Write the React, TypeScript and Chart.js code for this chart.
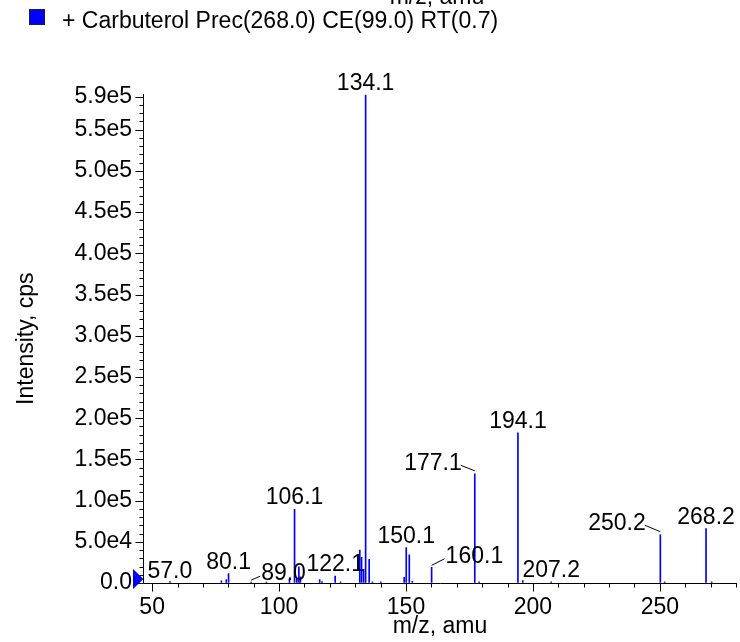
import React, { useEffect, useRef } from 'react';
import { Chart, registerables } from 'chart.js';

Chart.register(...registerables);

const FONT = '"Liberation Sans", Arial, Helvetica, sans-serif';

const legendLabel = '+ Carbuterol Prec(268.0) CE(99.0) RT(0.7)';
const xTitle = 'm/z, amu';
const yTitle = 'Intensity, cps';

// peak list: m/z and intensity (cps)
const mz = [57.0, 77.3, 79.2, 80.1, 89.0, 95.0, 104.1, 106.1, 107.0, 107.8, 108.4, 116.0, 116.9, 122.1, 124.2,
  131.8, 132.5, 133.3, 134.1, 135.5, 136.8, 140.1, 149.3, 150.1, 151.3, 152.5, 160.1, 177.1, 178.8, 194.1,
  196.0, 207.2, 250.2, 251.9, 268.2, 270.4];
const intensity = [1800, 2500, 4000, 11300, 1000, 1000, 4500, 89400, 5700, 19700, 7600, 4000, 1800, 8500, 1500,
  39900, 31000, 16500, 592000, 28600, 1500, 1500, 6900, 43000, 34200, 2000, 19000, 132500, 1500, 182300,
  3000, 1500, 58600, 1500, 65900, 1500];

// peak annotations
const labelText = ['57.0', '80.1', '89.0', '106.1', '122.1', '134.1', '150.1', '160.1', '177.1', '194.1', '207.2', '250.2', '268.2'];
const labelPeak = [57.0, 80.1, 89.0, 106.1, 122.1, 134.1, 150.1, 160.1, 177.1, 194.1, 207.2, 250.2, 268.2];
const labelSide = ['above', 'above', 'right', 'above', 'above', 'above', 'above', 'right', 'left', 'above', 'above', 'left', 'above'];
const labelDx = [0, 0, 10, 0, 0, 0, 0, 14, -13, 0, 0, -14.6, 0];
const labelDy = [-4, -5, -2, -5, -5, -5, -5, -4.6, -4, -5, -5, -5, -5];

const xMin = 46.4;
const xMax = 280.4;
const yMax = 593000;
const xTickValues = [50, 100, 150, 200, 250];
const xTickLabels = ['50', '100', '150', '200', '250'];
const yTickValues = [0, 50000, 100000, 150000, 200000, 250000, 300000, 350000, 400000, 450000, 500000, 550000, 590000];
const yTickLabels = ['0.0', '5.0e4', '1.0e5', '1.5e5', '2.0e5', '2.5e5', '3.0e5', '3.5e5', '4.0e5', '4.5e5', '5.0e5', '5.5e5', '5.9e5'];
const xMinorStep = 10;
const yMinorStep = 10000;

const overlayPlugin = {
  id: 'overlay',
  afterDatasetsDraw(chart: any) {
    const { ctx, chartArea, scales } = chart;
    const x = scales.x;
    const y = scales.y;
    ctx.save();
    ctx.strokeStyle = '#000';
    ctx.lineWidth = 1;
    const bottom = Math.round(chartArea.bottom) + 0.5;
    const left = Math.round(chartArea.left) + 0.5;
    // axis lines
    ctx.beginPath();
    ctx.moveTo(left, Math.round(chartArea.top));
    ctx.lineTo(left, bottom);
    ctx.lineTo(chartArea.right, bottom);
    ctx.stroke();
    // x ticks
    ctx.beginPath();
    for (let v = Math.ceil(xMin / xMinorStep) * xMinorStep; v <= xMax; v += xMinorStep) {
      const p = Math.round(x.getPixelForValue(v)) + 0.5;
      const len = xTickValues.includes(v) ? 8 : 4;
      ctx.moveTo(p, bottom);
      ctx.lineTo(p, bottom + len);
    }
    // y ticks
    for (let v = 0; v <= yTickValues[yTickValues.length - 1]; v += yMinorStep) {
      const p = Math.round(y.getPixelForValue(v)) + 0.5;
      const len = yTickValues.includes(v) ? 8 : 4;
      ctx.moveTo(left, p);
      ctx.lineTo(left - len, p);
    }
    ctx.stroke();
    // origin marker
    const oy = y.getPixelForValue(0) - 4;
    ctx.fillStyle = '#0000ff';
    ctx.beginPath();
    ctx.moveTo(left - 10.5, oy - 10);
    ctx.lineTo(left, oy);
    ctx.lineTo(left - 10.5, oy + 10);
    ctx.closePath();
    ctx.fill();

    // peak labels
    ctx.font = '23px ' + FONT;
    ctx.fillStyle = '#000';
    ctx.textBaseline = 'alphabetic';
    labelText.forEach((t, i) => {
      const idx = mz.indexOf(labelPeak[i]);
      const px = x.getPixelForValue(mz[idx]);
      const top = y.getPixelForValue(intensity[idx]);
      const ax = px + labelDx[i];
      const by = top + labelDy[i];
      if (labelSide[i] === 'above') {
        ctx.textAlign = 'center';
      } else if (labelSide[i] === 'right') {
        ctx.textAlign = 'left';
        ctx.beginPath();
        ctx.moveTo(px, top - 2);
        ctx.lineTo(ax - 1, by - 4);
        ctx.stroke();
      } else {
        ctx.textAlign = 'right';
        ctx.beginPath();
        ctx.moveTo(px, top - 3);
        ctx.lineTo(ax - 1, by - 4.5);
        ctx.stroke();
      }
      ctx.fillText(t, ax, by);
    });

    // legend
    ctx.fillStyle = '#0000ff';
    ctx.fillRect(29, 9, 16, 16);
    ctx.strokeStyle = '#222';
    ctx.strokeRect(29.5, 9.5, 15, 15);
    ctx.fillStyle = '#000';
    ctx.textAlign = 'left';
    ctx.fillText(legendLabel, 62, 28);

    // clipped axis title of the panel above
    ctx.textAlign = 'center';
    ctx.fillText(xTitle, 437, 3.5);
    ctx.restore();
  },
};

export default function App() {
  const ref = useRef<HTMLCanvasElement | null>(null);
  useEffect(() => {
    if (!ref.current) return;
    Chart.defaults.font.family = FONT;
    Chart.defaults.color = '#000';
    const chart = new Chart(ref.current, {
      type: 'bar',
      data: {
        datasets: [
          {
            label: legendLabel,
            data: mz.map((m, i) => ({ x: m, y: intensity[i] })),
            backgroundColor: '#0000ff',
            borderWidth: 0,
            barThickness: 1,
            grouped: false,
          } as any,
        ],
      },
      options: {
        animation: false,
        responsive: false,
        devicePixelRatio: 1,
        layout: { padding: { top: 94.3, right: 3, left: 0, bottom: 0 } },
        plugins: { legend: { display: false }, tooltip: { enabled: false } },
        scales: {
          x: {
            type: 'linear',
            min: xMin,
            max: xMax,
            offset: false,
            afterBuildTicks: (s: any) => {
              s.ticks = xTickValues.map((v) => ({ value: v }));
            },
            afterFit: (s: any) => {
              s.height = 59;
            },
            ticks: {
              autoSkip: false,
              maxRotation: 0,
              padding: 3,
              color: '#000',
              font: { size: 23, family: FONT },
              callback: (_v: any, i: number) => xTickLabels[i],
            },
            grid: { display: true, drawOnChartArea: false, drawTicks: true, tickLength: 8, tickColor: 'rgba(0,0,0,0)', offset: false },
            border: { display: false },
            title: { display: true, text: xTitle, color: '#000', font: { size: 23, family: FONT }, padding: { top: 0, bottom: 1.5 } },
          },
          y: {
            type: 'linear',
            min: 0,
            max: yMax,
            afterBuildTicks: (s: any) => {
              s.ticks = yTickValues.map((v) => ({ value: v }));
            },
            afterFit: (s: any) => {
              s.width = 143;
            },
            ticks: {
              autoSkip: false,
              padding: 3,
              color: '#000',
              font: { size: 23, family: FONT },
              callback: (_v: any, i: number) => yTickLabels[i],
            },
            grid: { display: true, drawOnChartArea: false, drawTicks: true, tickLength: 8, tickColor: 'rgba(0,0,0,0)' },
            border: { display: false },
            title: { display: true, text: yTitle, color: '#000', font: { size: 23, family: FONT }, padding: { top: 12.5, bottom: 0 } },
          },
        },
      } as any,
      plugins: [overlayPlugin],
    });
    return () => chart.destroy();
  }, []);
  return (
    <div style={{ position: 'absolute', left: 0, top: 0, width: 740, height: 642, background: '#fff' }}>
      <canvas ref={ref} width={740} height={642} style={{ width: 740, height: 642, display: 'block' }} />
    </div>
  );
}
